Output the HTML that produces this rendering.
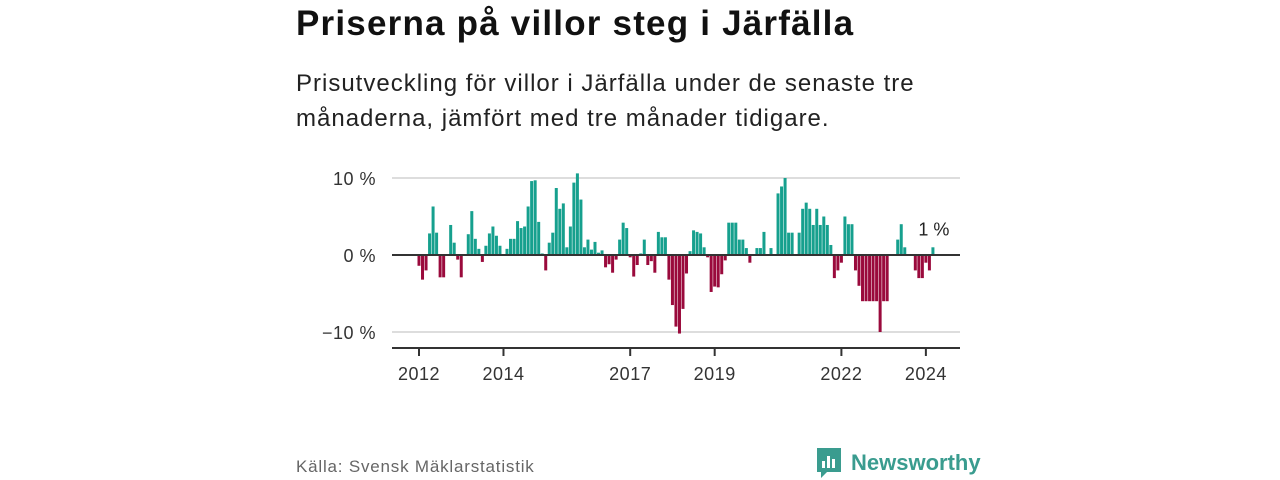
<!DOCTYPE html>
<html><head><meta charset="utf-8">
<style>
body{margin:0;width:1280px;height:480px;background:#fff;font-family:"Liberation Sans","DejaVu Sans",sans-serif;overflow:hidden;position:relative}
.t{position:absolute;left:296px;top:4px;font-size:35px;font-weight:bold;color:#111;margin:0;letter-spacing:1.2px}
.s{position:absolute;left:296px;top:66px;font-size:24px;line-height:35px;color:#222;margin:0;letter-spacing:1px}
.src{position:absolute;left:296px;top:457px;font-size:17px;color:#666;letter-spacing:0.8px}
.logo{position:absolute;left:815px;top:446px;display:flex;align-items:center;gap:8px;color:#3a9c8f;font-size:22px;font-weight:bold}
</style></head><body>
<h1 class="t">Priserna på villor steg i Järfälla</h1>
<p class="s">Prisutveckling för villor i Järfälla under de senaste tre<br>månaderna, jämfört med tre månader tidigare.</p>
<svg id="chart" width="1280" height="480" style="position:absolute;left:0;top:0"></svg>
<div class="src">Källa: Svensk Mäklarstatistik</div>
<div class="logo">
<svg width="28" height="34" viewBox="0 0 28 34"><path d="M2 2h24v24H12l-6 6v-6H2z" fill="#3a9c8f"/><rect x="7" y="15" width="3" height="7" fill="#fff"/><rect x="12" y="10" width="3" height="12" fill="#fff"/><rect x="17" y="13" width="3" height="9" fill="#fff"/></svg>
<span>Newsworthy</span></div>
<script>
const values=[-1.4,-3.2,-2.0,2.8,6.3,2.9,-2.9,-2.9,0,3.9,1.6,-0.6,-2.9,0,2.7,5.7,2.1,0.8,-0.9,1.2,2.8,3.7,2.5,1.2,0,0.8,2.1,2.1,4.4,3.5,3.7,6.3,9.6,9.7,4.3,0.2,-2.0,1.6,2.9,8.7,6.0,6.7,1.0,3.7,9.4,10.6,7.2,1.0,2.0,0.7,1.7,0.3,0.6,-1.6,-1.2,-2.3,-0.6,2.0,4.2,3.5,-0.3,-2.8,-1.3,0.2,2.0,-1.3,-0.8,-2.3,3.0,2.3,2.3,-3.2,-6.5,-9.3,-10.2,-7.0,-2.4,0.5,3.2,3.0,2.8,1.0,-0.3,-4.8,-4.1,-4.2,-2.5,-0.7,4.2,4.2,4.2,2.0,2.0,0.9,-1.0,0,0.9,0.9,3.0,0,0.9,0,8.0,8.9,10.0,2.9,2.9,0,2.9,6.0,6.8,6.0,3.9,6.0,3.9,5.0,3.9,1.3,-3.0,-2.0,-1.0,5.0,4.0,4.0,-2.0,-4.0,-6.0,-6.0,-6.0,-6.0,-6.0,-10.0,-6.0,-6.0,0,0,2.0,4.0,1.0,0,0,-2.0,-3.0,-3.0,-1.0,-2.0,1.0];
const startYear=2012;
const xTickYears=[2012,2014,2017,2019,2022,2024];
const yTicks=[10,0,-10];
const yTickLabels=["10 %","0 %","−10 %"];
const lastLabel="1 %";
const NS="http://www.w3.org/2000/svg";
const svg=document.getElementById('chart');
const x=i=>419+i*3.52;
const y=v=>255-v*7.7;
function el(t,a){const e=document.createElementNS(NS,t);for(const k in a)e.setAttribute(k,a[k]);svg.appendChild(e);return e;}
yTicks.forEach((v,k)=>{
  if(v!==0){const g=el('line',{x1:392,x2:960,y1:y(v),y2:y(v),stroke:'#ddd','stroke-width':2});
  
  }
  const t=el('text',{x:376,y:y(v)+7,'text-anchor':'end','font-size':18,fill:'#333','font-family':'Liberation Sans, sans-serif','letter-spacing':0.5});
  t.textContent=yTickLabels[k];
  
  
});
values.forEach((v,i)=>{
  if(v===0)return;
  const r=el('rect',{x:x(i)-1.5,width:3,y:v>0?y(v):y(0),height:Math.abs(y(v)-y(0)),fill:v>0?'#16a08e':'#9a0a3c'});
  
  
});
const z=el('line',{x1:392,x2:960,y1:y(0),y2:y(0),stroke:'#333','stroke-width':2});


const ax=el('line',{x1:392,x2:960,y1:348,y2:348,stroke:'#333','stroke-width':2});


xTickYears.forEach(yr=>{
  const xi=x((yr-startYear)*12);
  const tk=el('line',{x1:xi,x2:xi,y1:348,y2:356,stroke:'#333','stroke-width':2});
  
  
  const t=el('text',{x:xi,y:380,'text-anchor':'middle','font-size':18,fill:'#333','font-family':'Liberation Sans, sans-serif','letter-spacing':0.5});
  t.textContent=yr;
  
  
});
const li=values.length-1;
const lt=el('text',{x:x(li)+1,y:y(values[li])-12,'text-anchor':'middle','font-size':18,fill:'#222','font-family':'Liberation Sans, sans-serif'});
lt.textContent=lastLabel;


</script>
</body></html>
